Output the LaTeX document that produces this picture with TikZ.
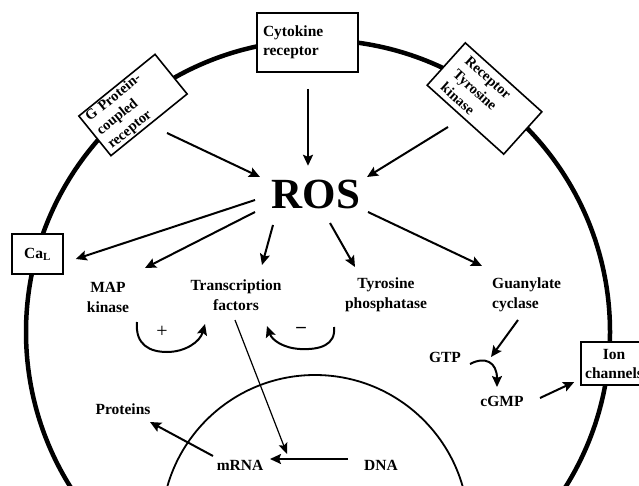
\documentclass[tikz,border=0pt]{standalone}
\usepackage{fontspec}
\setmainfont{Liberation Serif}
\usetikzlibrary{arrows.meta,calc}
\begin{document}
\begin{tikzpicture}[x=1pt,y=-1pt,
  lbl/.style={font=\fontsize{15.5}{20}\selectfont\bfseries, align=center, inner sep=0pt},
  boxst/.style={draw, line width=1.6pt, fill=white, inner sep=0pt,
    font=\fontsize{15.5}{19}\selectfont\bfseries},
  arr/.style={line width=2pt, -{Stealth[length=11pt,width=10pt,inset=2pt]}},
  thinarr/.style={line width=1.2pt, -{Stealth[length=11pt,width=9pt,inset=2pt]}},
]
\useasboundingbox (0,0) rectangle (639,486);
% cell membrane and nucleus
\draw[line width=4.5pt] (318,332) circle[radius=292pt];
\draw[line width=1.8pt] (315,528.5) circle[radius=153.5pt];

% receptors and channels
\node[boxst, rotate=39, minimum height=51pt, text width=88pt, inner xsep=5pt, align=left,
  font=\fontsize{14.5}{17.5}\selectfont\bfseries] (gpcr) at (133,105) {G Protein-\\coupled\\receptor};
\node[boxst, minimum height=59pt, text width=89pt, inner xsep=6pt, align=left] (cyto) at (307.5,42.5) {Cytokine\\receptor};
\node[boxst, rotate=-42, minimum height=57pt, text width=79pt, inner xsep=12pt, align=left,
  font=\fontsize{14.5}{18}\selectfont\bfseries] (rtk) at (484.5,98.5) {Receptor\\Tyrosine\\kinase};
\node[boxst, minimum width=51pt, minimum height=40pt] (ca) at (37.5,254) {Ca\textsubscript{L}};
\node[boxst, minimum width=66pt, minimum height=43pt, align=center] (ion) at (614,363.5) {Ion\\channels};

% ROS
\node[inner sep=0pt, font=\fontsize{43}{43}\selectfont\bfseries] (ros) at (316,194) {ROS};

% labels
\node[lbl] (map) at (108,297) {MAP\\kinase};
\node[lbl] (tf) at (236,295) {Transcription\\factors};
\node[lbl] (tp) at (386,295) {Tyrosine\\phosphatase};
\node[lbl, align=left, anchor=west] (gc) at (492,295) {Guanylate\\cyclase};
\node[lbl] (gtp) at (445,357) {GTP};
\node[lbl] (cgmp) at (502,401) {cGMP};
\node[lbl] (prot) at (123,409) {Proteins};
\node[lbl] (mrna) at (240,465) {mRNA};
\node[lbl] (dna) at (381,465) {DNA};
\node[inner sep=0pt, font=\fontsize{20}{20}\selectfont] (plus) at (162,332) {+};
\node[inner sep=0pt, font=\fontsize{19}{19}\selectfont\bfseries] (minus) at (301,330) {--};

% receptors to ROS
\draw[arr] ($(gpcr)+(34,28)$) -- ($(ros)+(-56,-17)$);
\draw[arr] ($(cyto.south)+(0.5,16)$) -- ($(cyto.south)+(0.5,93)$);
\draw[arr] ($(rtk)+(-36.5,28.5)$) -- ($(ros)+(51,-17)$);

% ROS to targets
\draw[arr] ($(ros)+(-61,6)$) -- ($(ca.east)+(12,5)$);
\draw[arr] ($(ros)+(-61,18)$) -- ($(map)+(37,-29)$);
\draw[arr] ($(ros)+(-43,31)$) -- ($(tf)+(26,-30)$);
\draw[arr] ($(ros)+(14,29)$) -- ($(tp)+(-31,-28)$);
\draw[arr] ($(ros)+(52,18)$) -- ($(gc.west)+(-10,-29)$);

% feedback curves
\draw[arr] ($(plus)+(-25,-10)$) .. controls ($(plus)+(-27,13)$) and ($(plus)+(-12,20)$) .. ($(plus)+(5,20)$)
  .. controls ($(plus)+(23,20)$) and ($(plus)+(38,10)$) .. ($(plus)+(43,-8)$);
\draw[arr] ($(minus)+(33,-3)$) .. controls ($(minus)+(35,15)$) and ($(minus)+(19,20)$) .. ($(minus)+(-1,19)$)
  .. controls ($(minus)+(-18,18)$) and ($(minus)+(-29,10)$) .. ($(minus)+(-34,-4)$);

% cGMP pathway
\draw[arr] ($(gc.west)+(26,25)$) -- ($(gtp)+(46,0)$);
\draw[arr] ($(gtp)+(25,7)$) .. controls ($(gtp)+(40,-1)$) and ($(gtp)+(52,5)$) .. ($(gtp)+(52,30)$);
\draw[arr] ($(cgmp)+(38,-3)$) -- ($(ion.west)+(-6,18.5)$);

% nucleus
\draw[thinarr] ($(tf)+(-1,25)$) -- ($(mrna)+(47,-11)$);
\draw[arr] ($(dna)+(-33,-6)$) -- ($(mrna)+(30,-6)$);
\draw[arr] ($(mrna)+(-27,-9)$) -- ($(prot)+(27,13)$);
\end{tikzpicture}
\end{document}
